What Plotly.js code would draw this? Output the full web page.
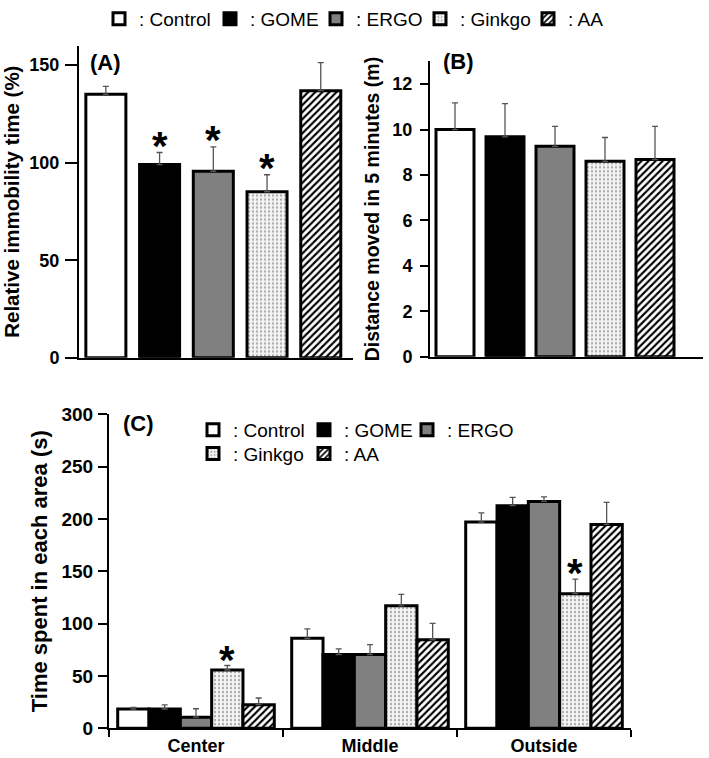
<!DOCTYPE html>
<html><head><meta charset="utf-8">
<script src="https://cdn.plot.ly/plotly-3.0.1.min.js"></script>
<style>html,body{margin:0;padding:0;background:#fff}</style>
</head><body><div id="chart" style="width:709px;height:758px"></div>
<script>
// ---- data ----
const groups = ['Control', 'GOME', 'ERGO', 'Ginkgo', 'AA'];
// (A) relative immobility time (%)
const immobility = [135.0, 99.0, 95.6, 85.1, 136.9];
const immobilitySE = [4.1, 6.2, 12.5, 8.7, 14.4];
const immobilitySig = [false, true, true, true, false];
// (B) distance moved in 5 minutes (m)
const distance = [10.0, 9.68, 9.26, 8.60, 8.68];
const distanceSE = [1.17, 1.46, 0.88, 1.05, 1.46];
// (C) time spent in each area (s)
const areas = ['Center', 'Middle', 'Outside'];
const timeControl = [18.5, 86.0, 196.9];
const timeGOME = [18.5, 70.5, 212.6];
const timeERGO = [10.7, 70.5, 216.7];
const timeGinkgo = [55.7, 117.0, 128.6];
const timeAA = [22.6, 84.6, 194.7];
const seControl = [1.6, 9.0, 8.8];
const seGOME = [4.0, 5.3, 7.9];
const seERGO = [8.0, 9.5, 4.3];
const seGinkgo = [4.3, 11.0, 13.9];
const seAA = [6.4, 15.7, 21.1];
const sigGinkgo = [true, false, true];
const yTicksA = [0, 50, 100, 150];
const yTicksB = [0, 2, 4, 6, 8, 10, 12];
const yTicksC = [0, 50, 100, 150, 200, 250, 300];

// ---- styles ----
const W = 709, H = 758;
const px = v => v / W, py = v => 1 - v / H;
const styles = {
  Control: {color: '#ffffff'},
  GOME: {color: '#000000'},
  ERGO: {color: '#808080'},
  Ginkgo: {color: '#f4f4f4', pattern: {shape: '.', fgcolor: '#a8a8a8', bgcolor: '#f4f4f4', size: 4, solidity: 0.25}},
  AA: {color: '#ffffff', pattern: {shape: '/', fgcolor: '#000000', bgcolor: '#ffffff', size: 5, solidity: 0.42}}
};
// legend entry widths (px) for the top legend and the panel-C legend
const topLegendWidths = [66, 61, 59, 63, 60];
const cLegendWidths = [66, 58, 80, 66, 60];
const FONT = 'Liberation Sans, Arial, sans-serif';
function marker(g) {
  const s = styles[g];
  const m = {color: s.color, line: {color: '#000', width: 3}};
  if (s.pattern) m.pattern = s.pattern;
  return m;
}
function errBar(arr) {
  return {type: 'data', symmetric: false, array: arr, color: '#555', thickness: 1.3, width: 3};
}

const traces = [];
groups.forEach((g, i) => {
  traces.push({type: 'bar', x: [g], y: [immobility[i]], xaxis: 'x', yaxis: 'y',
    name: ': ' + g, legend: 'legend', legendwidth: topLegendWidths[i], offsetgroup: 'A', width: 0.745,
    marker: marker(g), error_y: errBar([immobilitySE[i]]), hoverinfo: 'y'});
});
groups.forEach((g, i) => {
  traces.push({type: 'bar', x: [g], y: [distance[i]], xaxis: 'x2', yaxis: 'y2',
    name: g, showlegend: false, offsetgroup: 'B', width: 0.76,
    marker: marker(g), error_y: errBar([distanceSE[i]]), hoverinfo: 'y'});
});
const cVals = [timeControl, timeGOME, timeERGO, timeGinkgo, timeAA];
const cSE = [seControl, seGOME, seERGO, seGinkgo, seAA];
groups.forEach((g, i) => {
  traces.push({type: 'bar', x: areas, y: cVals[i], xaxis: 'x3', yaxis: 'y3',
    name: ': ' + g, legend: i < 3 ? 'legend2' : 'legend3', legendwidth: cLegendWidths[i],
    marker: marker(g), error_y: errBar(cSE[i]), hoverinfo: 'y'});
});

const bargap = 0.1;
const annotations = [];
const starFont = {family: FONT, size: 40, weight: 'bold', color: '#000'};
groups.forEach((g, i) => {
  if (immobilitySig[i]) annotations.push({xref: 'x', yref: 'y', x: g,
    y: immobility[i] + immobilitySE[i], text: '*', showarrow: false,
    yanchor: 'bottom', yshift: -17, font: starFont});
});
const slot = (1 - bargap) / groups.length;
const ginkgoOffset = (groups.indexOf('Ginkgo') - (groups.length - 1) / 2) * slot;
areas.forEach((a, j) => {
  if (sigGinkgo[j]) annotations.push({xref: 'x3', yref: 'y3', x: j + ginkgoOffset,
    y: timeGinkgo[j] + seGinkgo[j], text: '*', showarrow: false,
    yanchor: 'bottom', yshift: -18, font: starFont});
});
const panelFont = {family: FONT, size: 22, weight: 'bold', color: '#000'};
[['(A)', 106, 54], ['(B)', 458, 53], ['(C)', 138, 419]].forEach(p => {
  annotations.push({xref: 'paper', yref: 'paper', x: px(p[1]), y: py(p[2]), text: p[0],
    showarrow: false, xanchor: 'center', yanchor: 'middle', font: panelFont});
});

function yax(domain, range, ticks, title, tsize, ticklen, standoff, anchor, lsize, lstand) {
  return {domain: domain, range: range, anchor: anchor, tickvals: ticks, ticks: 'outside', ticklen: ticklen,
    tickwidth: 2, tickcolor: '#000', showline: true, linewidth: 2, linecolor: '#000',
    showgrid: false, zeroline: false, fixedrange: true,
    tickfont: {family: FONT, size: lsize, weight: 'bold', color: '#000'}, ticklabelstandoff: lstand,
    title: {text: title, font: {family: FONT, size: tsize, weight: 'bold', color: '#000'}, standoff: standoff}};
}
function xax(domain, range, anchor) {
  return {domain: domain, range: range, anchor: anchor, showline: true, linewidth: 2,
    linecolor: '#000', showgrid: false, zeroline: false, showticklabels: false,
    ticks: '', type: 'category', categoryorder: 'array', categoryarray: groups, fixedrange: true};
}
const legendBase = {orientation: 'h', xanchor: 'left', yanchor: 'middle',
  bgcolor: 'rgba(0,0,0,0)', borderwidth: 0,
  font: {family: FONT, size: 19, color: '#000'}, itemclick: false, itemdoubleclick: false,
  traceorder: 'normal'};

const layout = {
  width: W, height: H, margin: {l: 0, r: 0, t: 0, b: 0},
  paper_bgcolor: '#fff', plot_bgcolor: '#fff',
  barmode: 'group', bargap: bargap, bargroupgap: 0,
  font: {family: FONT, color: '#000'},
  xaxis: xax([px(79), px(353)], [-0.5, 4.6], 'y'),
  yaxis: yax([py(353), py(37)], [0, 160], yTicksA, 'Relative immobility time (%)', 20.5, 12, 12, 'x', 18, 2),
  xaxis2: xax([px(430), px(703)], [-0.5, 4.96], 'y2'),
  yaxis2: yax([py(352), py(53)], [0, 13], yTicksB, 'Distance moved in 5 minutes (m)', 19.5, 8, 8, 'x2', 18, 4),
  xaxis3: {domain: [px(109), px(631)], range: [-0.5, 2.5], anchor: 'y3', type: 'category',
    showline: true, linewidth: 2, linecolor: '#000', showgrid: false, zeroline: false,
    ticks: 'outside', tickson: 'boundaries', ticklen: 7, tickwidth: 2, tickcolor: '#000',
    tickfont: {family: FONT, size: 18, weight: 'bold', color: '#000'}, fixedrange: true},
  yaxis3: yax([py(728), py(410)], [0, 300], yTicksC, 'Time spent in each area (s)', 22, 9, 8, 'x3', 19, 1),
  legend: Object.assign({}, legendBase, {x: px(99), y: py(10)}),
  legend2: Object.assign({}, legendBase, {x: px(193), y: py(426)}),
  legend3: Object.assign({}, legendBase, {x: px(193), y: py(450)}),
  annotations: annotations,
  showlegend: true
};
Plotly.newPlot('chart', traces, layout, {displayModeBar: false, staticPlot: true});
</script>
</body></html>
